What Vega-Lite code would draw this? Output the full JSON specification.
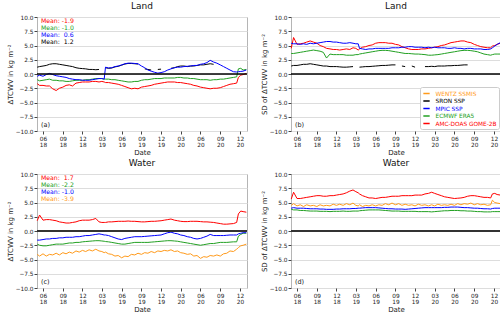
{
"$schema":"https://vega.github.io/schema/vega-lite/v6.json",
"padding":{"left":5,"top":1,"right":2,"bottom":0},
"background":"white",
"config":{
 "font":"DejaVu Sans",
 "view":{"stroke":"#b5b5b5","strokeWidth":1},
 "axis":{"labelFontSize":5.8,"titleFontSize":7,"titleFontWeight":"normal","labelColor":"#222","titleColor":"#222","tickColor":"#444","tickSize":3,"labelPadding":1,"domain":false,"labelOverlap":false,"labelFlush":false},
 "title":{"fontSize":9,"fontWeight":"normal","offset":3,"color":"#111"}
},
"datasets":{"ts":[
{"d":"2018-05-05","ar":-1.7,"ag":-1.0,"ab":-0.4,"ak":1.2,"br":4.5,"bg":3.6,"bb":5.4,"bk":1.4,"cr":1.8,"cg":-2.3,"cb":-1.6,"co":-4.1,"dr":5.6,"dg":3.8,"db":4.0,"dor":4.5},
{"d":"2018-05-16","ar":-2.0,"ag":-1.2,"ab":-0.2,"ak":1.3,"br":6.4,"bg":3.6,"bb":5.3,"bk":1.5,"cr":2.8,"cg":-2.5,"cb":-1.6,"co":-4.4,"dr":6.8,"dg":3.7,"db":4.1,"dor":4.8},
{"d":"2018-06-01","ar":-2.0,"ag":-1.1,"ab":-0.4,"ak":1.4,"br":5.2,"bg":3.7,"bb":5.3,"bk":1.5,"cr":1.9,"cg":-2.6,"cb":-1.5,"co":-4.0,"dr":5.7,"dg":3.7,"db":4.0,"dor":4.4},
{"d":"2018-06-16","ar":-2.1,"ag":-1.0,"ab":-0.1,"ak":1.5,"br":5.3,"bg":3.8,"bb":5.2,"bk":1.6,"cr":2.0,"cg":-2.6,"cb":-1.4,"co":-4.4,"dr":5.7,"dg":3.6,"db":4.0,"dor":4.6},
{"d":"2018-07-01","ar":-2.1,"ag":-0.9,"ab":0.1,"ak":1.7,"br":5.4,"bg":3.9,"bb":5.3,"bk":1.7,"cr":2.0,"cg":-2.5,"cb":-1.4,"co":-4.1,"dr":5.8,"dg":3.6,"db":4.0,"dor":4.3},
{"d":"2018-07-16","ar":-2.6,"ag":-1.1,"ab":-0.1,"ak":1.8,"br":5.6,"bg":4.0,"bb":5.2,"bk":1.7,"cr":1.9,"cg":-2.4,"cb":-1.3,"co":-4.2,"dr":5.9,"dg":3.55,"db":3.95,"dor":4.6},
{"d":"2018-08-01","ar":-2.9,"ag":-1.1,"ab":-0.3,"ak":1.8,"br":5.8,"bg":4.1,"bb":5.4,"bk":1.8,"cr":1.8,"cg":-2.3,"cb":-1.3,"co":-3.9,"dr":6.0,"dg":3.5,"db":3.9,"dor":4.4},
{"d":"2018-08-16","ar":-2.5,"ag":-1.2,"ab":-0.4,"ak":1.7,"br":5.6,"bg":4.2,"bb":5.3,"bk":1.7,"cr":1.6,"cg":-2.3,"cb":-1.2,"co":-4.2,"dr":6.1,"dg":3.5,"db":3.9,"dor":4.5},
{"d":"2018-09-01","ar":-2.3,"ag":-1.2,"ab":-0.5,"ak":1.6,"br":5.4,"bg":4.1,"bb":5.4,"bk":1.6,"cr":1.5,"cg":-2.3,"cb":-1.2,"co":-3.8,"dr":6.2,"dg":3.5,"db":3.9,"dor":4.3},
{"d":"2018-09-16","ar":-2.0,"ag":-1.3,"ab":-0.6,"ak":1.5,"br":5.0,"bg":4.0,"bb":5.5,"bk":1.5,"cr":1.4,"cg":-2.2,"cb":-1.1,"co":-4.0,"dr":6.2,"dg":3.45,"db":3.85,"dor":4.6},
{"d":"2018-10-01","ar":-1.9,"ag":-1.3,"ab":-0.8,"ak":1.4,"br":4.8,"bg":3.8,"bb":5.6,"bk":1.4,"cr":1.4,"cg":-2.1,"cb":-1.1,"co":-3.7,"dr":6.1,"dg":3.45,"db":3.85,"dor":4.4},
{"d":"2018-10-16","ar":-2.1,"ag":-1.2,"ab":-0.9,"ak":1.3,"br":4.5,"bg":2.8,"bb":5.7,"bk":1.4,"cr":1.5,"cg":-2.1,"cb":-1.1,"co":-3.9,"dr":6.1,"dg":3.45,"db":3.8,"dor":4.5},
{"d":"2018-11-01","ar":-1.6,"ag":-1.1,"ab":-1.0,"ak":1.1,"br":4.4,"bg":3.5,"bb":5.7,"bk":1.3,"cr":1.6,"cg":-2.0,"cb":-1.0,"co":-3.5,"dr":6.2,"dg":3.4,"db":3.8,"dor":4.4},
{"d":"2018-11-16","ar":-1.5,"ag":-1.1,"ab":-1.0,"ak":1.0,"br":4.3,"bg":3.4,"bb":5.6,"bk":1.3,"cr":1.8,"cg":-2.0,"cb":-1.0,"co":-3.7,"dr":6.2,"dg":3.45,"db":3.8,"dor":4.7},
{"d":"2018-12-01","ar":-1.4,"ag":-1.1,"ab":-1.1,"ak":0.95,"br":4.3,"bg":3.4,"bb":5.6,"bk":1.3,"cr":1.9,"cg":-1.9,"cb":-0.9,"co":-3.4,"dr":6.3,"dg":3.45,"db":3.85,"dor":4.5},
{"d":"2018-12-16","ar":-1.4,"ag":-1.0,"ab":-1.1,"ak":0.9,"br":4.2,"bg":3.4,"bb":5.5,"bk":1.25,"cr":1.9,"cg":-1.85,"cb":-0.8,"co":-3.6,"dr":6.4,"dg":3.45,"db":3.85,"dor":4.7},
{"d":"2019-01-01","ar":-1.4,"ag":-1.0,"ab":-1.1,"ak":0.8,"br":4.3,"bg":3.4,"bb":5.4,"bk":1.2,"cr":1.9,"cg":-1.8,"cb":-0.8,"co":-3.3,"dr":6.5,"dg":3.5,"db":3.9,"dor":4.5},
{"d":"2019-01-16","ar":-1.3,"ag":-0.9,"ab":-1.0,"ak":0.8,"br":4.4,"bg":3.3,"bb":5.4,"bk":1.2,"cr":2.0,"cg":-1.75,"cb":-0.7,"co":-3.5,"dr":6.7,"dg":3.45,"db":3.9,"dor":4.8},
{"d":"2019-02-01","ar":-1.3,"ag":-0.8,"ab":-0.9,"ak":0.75,"br":4.3,"bg":3.3,"bb":5.5,"bk":1.25,"cr":2.2,"cg":-1.7,"cb":-0.6,"co":-3.2,"dr":7.0,"dg":3.45,"db":3.9,"dor":4.6},
{"d":"2019-02-16","ar":-1.4,"ag":-0.8,"ab":-0.8,"ak":0.8,"br":4.6,"bg":3.3,"bb":5.4,"bk":1.3,"cr":1.6,"cg":-1.7,"cb":-0.5,"co":-3.5,"dr":7.2,"dg":3.5,"db":3.95,"dor":4.9},
{"d":"2019-03-01","ar":-1.3,"ag":-0.8,"ab":-0.8,"ak":null,"br":4.5,"bg":3.4,"bb":5.3,"bk":null,"cr":1.5,"cg":-1.75,"cb":-0.6,"co":-3.6,"dr":6.9,"dg":3.5,"db":3.95,"dor":4.5},
{"d":"2019-03-12","ar":-1.4,"ag":-0.9,"ab":-0.9,"ak":null,"br":4.2,"bg":3.4,"bb":5.3,"bk":null,"cr":1.5,"cg":-1.8,"cb":-0.7,"co":-3.8,"dr":6.7,"dg":3.5,"db":4.0,"dor":4.4},
{"d":"2019-03-18","ar":-1.5,"ag":-0.9,"ab":1.2,"ak":1.1,"br":4.4,"bg":3.5,"bb":4.5,"bk":1.2,"cr":1.5,"cg":-1.85,"cb":-0.7,"co":-3.7,"dr":6.5,"dg":3.55,"db":4.0,"dor":4.6},
{"d":"2019-04-01","ar":-1.5,"ag":-0.9,"ab":1.05,"ak":1.0,"br":4.7,"bg":3.6,"bb":4.4,"bk":1.25,"cr":1.6,"cg":-1.9,"cb":-0.8,"co":-4.0,"dr":6.2,"dg":3.6,"db":4.05,"dor":4.3},
{"d":"2019-04-16","ar":-1.6,"ag":-1.0,"ab":1.1,"ak":1.05,"br":4.8,"bg":3.7,"bb":4.3,"bk":1.3,"cr":1.6,"cg":-2.0,"cb":-1.0,"co":-4.1,"dr":6.0,"dg":3.65,"db":4.1,"dor":4.5},
{"d":"2019-05-01","ar":-1.7,"ag":-1.0,"ab":1.3,"ak":1.25,"br":5.0,"bg":3.8,"bb":4.4,"bk":1.3,"cr":1.65,"cg":-2.1,"cb":-1.2,"co":-4.4,"dr":5.8,"dg":3.7,"db":4.1,"dor":4.4},
{"d":"2019-05-16","ar":-1.8,"ag":-1.1,"ab":1.4,"ak":1.35,"br":5.1,"bg":3.9,"bb":4.4,"bk":1.35,"cr":1.7,"cg":-2.2,"cb":-1.4,"co":-4.3,"dr":5.8,"dg":3.7,"db":4.1,"dor":4.6},
{"d":"2019-06-01","ar":-2.0,"ag":-1.2,"ab":1.6,"ak":1.55,"br":5.4,"bg":4.0,"bb":4.5,"bk":1.4,"cr":1.7,"cg":-2.3,"cb":-1.5,"co":-4.7,"dr":5.7,"dg":3.7,"db":4.1,"dor":4.4},
{"d":"2019-06-16","ar":-2.2,"ag":-1.3,"ab":1.8,"ak":1.75,"br":5.5,"bg":4.1,"bb":4.5,"bk":1.45,"cr":1.7,"cg":-2.3,"cb":-1.3,"co":-4.4,"dr":5.8,"dg":3.7,"db":4.05,"dor":4.6},
{"d":"2019-07-01","ar":-2.4,"ag":-1.4,"ab":1.9,"ak":1.85,"br":5.5,"bg":4.15,"bb":4.5,"bk":1.5,"cr":1.75,"cg":-2.2,"cb":-1.2,"co":-4.5,"dr":5.9,"dg":3.65,"db":4.0,"dor":4.5},
{"d":"2019-07-16","ar":-2.6,"ag":-1.4,"ab":1.9,"ak":1.85,"br":5.5,"bg":4.15,"bb":4.5,"bk":1.5,"cr":1.7,"cg":-2.1,"cb":-1.1,"co":-4.1,"dr":5.9,"dg":3.6,"db":3.95,"dor":4.8},
{"d":"2019-08-01","ar":-2.5,"ag":-1.3,"ab":1.85,"ak":1.8,"br":5.4,"bg":4.1,"bb":4.5,"bk":1.55,"cr":1.7,"cg":-2.0,"cb":-1.0,"co":-4.2,"dr":6.0,"dg":3.55,"db":3.9,"dor":4.6},
{"d":"2019-08-16","ar":-2.6,"ag":-1.3,"ab":1.8,"ak":1.75,"br":5.4,"bg":4.0,"bb":4.6,"bk":1.6,"cr":1.65,"cg":-2.0,"cb":-1.0,"co":-3.9,"dr":6.1,"dg":3.5,"db":3.9,"dor":4.9},
{"d":"2019-09-01","ar":-2.3,"ag":-1.1,"ab":1.4,"ak":null,"br":5.2,"bg":3.9,"bb":4.6,"bk":1.6,"cr":1.6,"cg":-2.0,"cb":-1.0,"co":-4.1,"dr":6.1,"dg":3.5,"db":3.85,"dor":4.6},
{"d":"2019-09-16","ar":-2.2,"ag":-1.0,"ab":1.1,"ak":0.9,"br":5.1,"bg":3.8,"bb":4.6,"bk":null,"cr":1.6,"cg":-2.0,"cb":-0.95,"co":-3.8,"dr":6.1,"dg":3.5,"db":3.85,"dor":4.8},
{"d":"2019-10-01","ar":-2.1,"ag":-1.0,"ab":0.7,"ak":0.8,"br":4.8,"bg":3.7,"bb":4.7,"bk":1.4,"cr":1.65,"cg":-2.0,"cb":-0.9,"co":-3.9,"dr":6.2,"dg":3.45,"db":3.85,"dor":4.5},
{"d":"2019-10-16","ar":-2.0,"ag":-0.9,"ab":0.5,"ak":0.7,"br":4.6,"bg":3.6,"bb":4.7,"bk":1.3,"cr":1.7,"cg":-1.95,"cb":-0.85,"co":-3.6,"dr":6.2,"dg":3.45,"db":3.8,"dor":4.7},
{"d":"2019-11-01","ar":-1.8,"ag":-0.8,"ab":0.3,"ak":null,"br":4.4,"bg":3.6,"bb":4.8,"bk":null,"cr":1.7,"cg":-1.9,"cb":-0.8,"co":-3.8,"dr":6.2,"dg":3.45,"db":3.85,"dor":4.5},
{"d":"2019-11-16","ar":-1.7,"ag":-0.8,"ab":0.15,"ak":0.8,"br":4.3,"bg":3.55,"bb":4.8,"bk":1.4,"cr":1.75,"cg":-1.85,"cb":-0.75,"co":-3.5,"dr":6.2,"dg":3.45,"db":3.9,"dor":4.6},
{"d":"2019-12-01","ar":-1.6,"ag":-0.8,"ab":0.25,"ak":0.85,"br":4.3,"bg":3.5,"bb":4.7,"bk":1.2,"cr":1.8,"cg":-1.8,"cb":-0.7,"co":-3.6,"dr":6.3,"dg":3.45,"db":3.95,"dor":4.4},
{"d":"2019-12-16","ar":-1.5,"ag":-0.7,"ab":0.4,"ak":null,"br":4.3,"bg":3.5,"bb":4.7,"bk":null,"cr":1.9,"cg":-1.75,"cb":-0.5,"co":-3.4,"dr":6.3,"dg":3.4,"db":4.0,"dor":4.7},
{"d":"2020-01-01","ar":-1.4,"ag":-0.7,"ab":0.7,"ak":null,"br":4.4,"bg":3.45,"bb":4.7,"bk":null,"cr":2.0,"cg":-1.7,"cb":-0.3,"co":-3.5,"dr":6.3,"dg":3.4,"db":4.05,"dor":4.5},
{"d":"2020-01-16","ar":-1.4,"ag":-0.7,"ab":0.9,"ak":1.0,"br":4.4,"bg":3.4,"bb":4.6,"bk":1.3,"cr":2.1,"cg":-1.7,"cb":-0.2,"co":-3.3,"dr":6.5,"dg":3.4,"db":4.1,"dor":4.6},
{"d":"2020-02-01","ar":-1.4,"ag":-0.7,"ab":1.1,"ak":1.1,"br":4.5,"bg":3.3,"bb":4.7,"bk":1.3,"cr":1.9,"cg":-1.75,"cb":-0.4,"co":-3.6,"dr":6.6,"dg":3.4,"db":4.1,"dor":4.4},
{"d":"2020-02-16","ar":-1.5,"ag":-0.6,"ab":1.2,"ak":1.3,"br":4.6,"bg":3.3,"bb":4.6,"bk":1.35,"cr":1.8,"cg":-1.8,"cb":-0.5,"co":-3.5,"dr":6.8,"dg":3.35,"db":4.1,"dor":4.6},
{"d":"2020-03-01","ar":-1.5,"ag":-0.6,"ab":1.2,"ak":1.4,"br":4.7,"bg":3.35,"bb":4.7,"bk":1.3,"cr":1.7,"cg":-1.9,"cb":-0.7,"co":-3.8,"dr":6.6,"dg":3.4,"db":4.1,"dor":4.4},
{"d":"2020-03-16","ar":-1.6,"ag":-0.7,"ab":1.3,"ak":1.4,"br":4.8,"bg":3.4,"bb":4.6,"bk":1.4,"cr":1.65,"cg":-2.0,"cb":-0.8,"co":-3.9,"dr":6.4,"dg":3.45,"db":4.1,"dor":4.7},
{"d":"2020-04-01","ar":-1.7,"ag":-0.7,"ab":1.35,"ak":1.3,"br":5.0,"bg":3.5,"bb":4.6,"bk":1.4,"cr":1.65,"cg":-2.1,"cb":-1.0,"co":-4.1,"dr":6.2,"dg":3.5,"db":4.1,"dor":4.5},
{"d":"2020-04-16","ar":-1.8,"ag":-0.8,"ab":1.4,"ak":1.4,"br":5.1,"bg":3.6,"bb":4.6,"bk":1.4,"cr":1.7,"cg":-2.2,"cb":-1.1,"co":-4.0,"dr":6.0,"dg":3.55,"db":4.15,"dor":4.6},
{"d":"2020-05-01","ar":-2.0,"ag":-0.8,"ab":1.5,"ak":1.4,"br":5.3,"bg":3.7,"bb":4.5,"bk":1.45,"cr":1.7,"cg":-2.3,"cb":-1.3,"co":-4.4,"dr":5.9,"dg":3.55,"db":4.15,"dor":4.5},
{"d":"2020-05-16","ar":-2.1,"ag":-0.9,"ab":1.5,"ak":1.5,"br":5.5,"bg":3.8,"bb":4.5,"bk":1.45,"cr":1.7,"cg":-2.4,"cb":-1.4,"co":-4.3,"dr":5.8,"dg":3.6,"db":4.2,"dor":4.7},
{"d":"2020-06-01","ar":-2.3,"ag":-1.0,"ab":1.7,"ak":1.6,"br":5.6,"bg":3.9,"bb":4.6,"bk":1.5,"cr":1.65,"cg":-2.5,"cb":-1.3,"co":-4.8,"dr":5.7,"dg":3.6,"db":4.2,"dor":4.5},
{"d":"2020-06-16","ar":-2.4,"ag":-1.0,"ab":1.8,"ak":1.6,"br":5.7,"bg":4.0,"bb":4.5,"bk":1.5,"cr":1.6,"cg":-2.4,"cb":-1.1,"co":-4.5,"dr":5.75,"dg":3.6,"db":4.2,"dor":4.8},
{"d":"2020-07-01","ar":-2.5,"ag":-1.0,"ab":2.0,"ak":1.7,"br":5.8,"bg":4.1,"bb":4.5,"bk":1.55,"cr":1.6,"cg":-2.3,"cb":-0.9,"co":-4.6,"dr":5.8,"dg":3.55,"db":4.15,"dor":4.6},
{"d":"2020-07-16","ar":-2.6,"ag":-1.1,"ab":2.4,"ak":1.8,"br":5.8,"bg":4.15,"bb":4.4,"bk":1.6,"cr":1.55,"cg":-2.2,"cb":-0.6,"co":-4.3,"dr":5.9,"dg":3.55,"db":4.1,"dor":4.8},
{"d":"2020-08-01","ar":-2.5,"ag":-1.0,"ab":2.1,"ak":1.7,"br":5.6,"bg":4.15,"bb":4.5,"bk":1.6,"cr":1.5,"cg":-2.2,"cb":-0.8,"co":-4.4,"dr":6.1,"dg":3.5,"db":4.1,"dor":4.7},
{"d":"2020-08-16","ar":-2.5,"ag":-1.0,"ab":1.9,"ak":null,"br":5.5,"bg":4.1,"bb":4.5,"bk":null,"cr":1.4,"cg":-2.1,"cb":-0.8,"co":-4.2,"dr":6.2,"dg":3.5,"db":4.05,"dor":4.9},
{"d":"2020-09-01","ar":-2.4,"ag":-0.9,"ab":1.6,"ak":null,"br":5.2,"bg":4.0,"bb":4.4,"bk":null,"cr":1.3,"cg":-2.0,"cb":-0.8,"co":-4.4,"dr":6.2,"dg":3.45,"db":4.0,"dor":4.6},
{"d":"2020-09-16","ar":-2.2,"ag":-0.9,"ab":1.3,"ak":null,"br":5.0,"bg":3.9,"bb":4.4,"bk":null,"cr":1.2,"cg":-2.0,"cb":-0.8,"co":-4.0,"dr":6.1,"dg":3.4,"db":4.0,"dor":4.8},
{"d":"2020-10-01","ar":-2.0,"ag":-0.8,"ab":1.0,"ak":null,"br":4.8,"bg":3.7,"bb":4.4,"bk":null,"cr":1.2,"cg":-2.0,"cb":-0.75,"co":-3.9,"dr":6.0,"dg":3.4,"db":3.95,"dor":4.6},
{"d":"2020-10-16","ar":-1.8,"ag":-0.7,"ab":0.7,"ak":null,"br":4.7,"bg":3.5,"bb":4.3,"bk":null,"cr":1.25,"cg":-1.95,"cb":-0.7,"co":-3.5,"dr":5.9,"dg":3.35,"db":3.9,"dor":4.7},
{"d":"2020-11-01","ar":-1.7,"ag":-0.6,"ab":0.4,"ak":null,"br":4.6,"bg":3.4,"bb":4.3,"bk":null,"cr":1.3,"cg":-1.9,"cb":-0.7,"co":-3.6,"dr":5.9,"dg":3.35,"db":3.9,"dor":4.5},
{"d":"2020-11-16","ar":-1.6,"ag":-0.5,"ab":0.35,"ak":null,"br":4.6,"bg":3.3,"bb":4.4,"bk":null,"cr":1.5,"cg":-1.9,"cb":-0.7,"co":-3.2,"dr":5.8,"dg":3.35,"db":3.85,"dor":4.6},
{"d":"2020-11-24","ar":-0.6,"ag":0.9,"ab":0.4,"ak":null,"br":4.9,"bg":3.4,"bb":4.6,"bk":null,"cr":3.0,"cg":-0.9,"cb":-0.5,"co":-2.9,"dr":6.5,"dg":3.4,"db":3.95,"dor":5.4},
{"d":"2020-12-05","ar":-0.2,"ag":1.0,"ab":0.45,"ak":null,"br":5.0,"bg":3.5,"bb":4.9,"bk":null,"cr":3.5,"cg":-0.6,"cb":-0.4,"co":-2.6,"dr":6.6,"dg":3.4,"db":4.0,"dor":5.0},
{"d":"2020-12-16","ar":-0.1,"ag":0.7,"ab":0.5,"ak":null,"br":5.2,"bg":3.5,"bb":5.2,"bk":null,"cr":3.4,"cg":-0.4,"cb":-0.3,"co":-2.5,"dr":6.4,"dg":3.4,"db":4.0,"dor":4.9},
{"d":"2020-12-31","ar":0.1,"ag":0.8,"ab":0.7,"ak":null,"br":5.4,"bg":3.5,"bb":5.5,"bk":null,"cr":3.3,"cg":-0.4,"cb":-0.3,"co":-2.3,"dr":6.3,"dg":3.4,"db":4.0,"dor":4.8}
]},
"columns":2,
"spacing":{"row":2,"column":10},
"resolve":{"scale":{"x":"independent","y":"independent","color":"independent"},"legend":{"color":"independent"}},
"concat":[
{"width":210,"height":114,"title":"Land",
 "resolve":{"axis":{"x":"independent","y":"independent"}},
 "layer":[
  {"data":{"name":"ts"},"transform":[{"fold":["ak","ag","ar","ab"]}],
   "mark":{"type":"line","strokeWidth":1,"invalid":"break-paths-show-domains"},
   "encoding":{
    "x":{"field":"d","type":"temporal","scale":{"type":"utc","domain":[{"year":2018,"month":5,"date":4,"utc":true},{"year":2021,"month":1,"date":3,"utc":true}]},"axis":{"title":"Date","grid":false,"values":[{"year":2018,"month":6,"date":1,"utc":true},{"year":2018,"month":9,"date":1,"utc":true},{"year":2018,"month":12,"date":1,"utc":true},{"year":2019,"month":3,"date":1,"utc":true},{"year":2019,"month":6,"date":1,"utc":true},{"year":2019,"month":9,"date":1,"utc":true},{"year":2019,"month":12,"date":1,"utc":true},{"year":2020,"month":3,"date":1,"utc":true},{"year":2020,"month":6,"date":1,"utc":true},{"year":2020,"month":9,"date":1,"utc":true},{"year":2020,"month":12,"date":1,"utc":true}],"labelExpr":"[utcFormat(datum.value,'%m'),utcFormat(datum.value,'%y')]","labelLineHeight":6.5,"titlePadding":1}},
    "y":{"field":"value","type":"quantitative","scale":{"domain":[-10,10]},"axis":{"title":"ΔTCWV in kg m⁻²","values":[-10,-7.5,-5,-2.5,0,2.5,5,7.5,10],"format":".1f","grid":true,"gridColor":"#dddddd","titlePadding":2}},
    "color":{"field":"key","type":"nominal","scale":{"domain":["ak","ag","ar","ab"],"range":["#000000","#22a022","#ff0000","#0000ff"]},"legend":null}}},
  {"data":{"values":[{}]},"mark":{"type":"rule","color":"#000000","strokeWidth":1.6},"encoding":{"y":{"datum":0,"axis":null}}},
  {"data":{"values":[{}]},"mark":{"type":"text","align":"left","baseline":"middle","fontSize":6.2,"color":"#ff0000","text":"Mean: -1.9"},"encoding":{"x":{"datum":{"year":2018,"month":5,"date":22,"utc":true},"axis":null},"y":{"datum":9.3,"axis":null}}},
  {"data":{"values":[{}]},"mark":{"type":"text","align":"left","baseline":"middle","fontSize":6.2,"color":"#22a022","text":"Mean: -1.0"},"encoding":{"x":{"datum":{"year":2018,"month":5,"date":22,"utc":true},"axis":null},"y":{"datum":8.1,"axis":null}}},
  {"data":{"values":[{}]},"mark":{"type":"text","align":"left","baseline":"middle","fontSize":6.2,"color":"#0000ff","text":"Mean: \u00a00.6"},"encoding":{"x":{"datum":{"year":2018,"month":5,"date":22,"utc":true},"axis":null},"y":{"datum":6.9,"axis":null}}},
  {"data":{"values":[{}]},"mark":{"type":"text","align":"left","baseline":"middle","fontSize":6.2,"color":"#000000","text":"Mean: \u00a01.2"},"encoding":{"x":{"datum":{"year":2018,"month":5,"date":22,"utc":true},"axis":null},"y":{"datum":5.7,"axis":null}}},
  {"data":{"values":[{}]},"mark":{"type":"text","align":"left","baseline":"middle","fontSize":6.5,"color":"#222222","text":"(a)"},"encoding":{"x":{"datum":{"year":2018,"month":5,"date":22,"utc":true},"axis":null},"y":{"datum":-8.9,"axis":null}}}
 ]},
{"width":210,"height":114,"title":"Land",
 "resolve":{"axis":{"x":"independent","y":"independent"}},
 "layer":[
  {"data":{"name":"ts"},"transform":[{"fold":["bk","bg","br","bb"]}],
   "mark":{"type":"line","strokeWidth":1,"invalid":"break-paths-show-domains"},
   "encoding":{
    "x":{"field":"d","type":"temporal","scale":{"type":"utc","domain":[{"year":2018,"month":5,"date":4,"utc":true},{"year":2021,"month":1,"date":3,"utc":true}]},"axis":{"title":"Date","grid":false,"values":[{"year":2018,"month":6,"date":1,"utc":true},{"year":2018,"month":9,"date":1,"utc":true},{"year":2018,"month":12,"date":1,"utc":true},{"year":2019,"month":3,"date":1,"utc":true},{"year":2019,"month":6,"date":1,"utc":true},{"year":2019,"month":9,"date":1,"utc":true},{"year":2019,"month":12,"date":1,"utc":true},{"year":2020,"month":3,"date":1,"utc":true},{"year":2020,"month":6,"date":1,"utc":true},{"year":2020,"month":9,"date":1,"utc":true},{"year":2020,"month":12,"date":1,"utc":true}],"labelExpr":"[utcFormat(datum.value,'%m'),utcFormat(datum.value,'%y')]","labelLineHeight":6.5,"titlePadding":1}},
    "y":{"field":"value","type":"quantitative","scale":{"domain":[-10,10]},"axis":{"title":"SD of ΔTCWV in kg m⁻²","values":[-10,-7.5,-5,-2.5,0,2.5,5,7.5,10],"format":".1f","grid":true,"gridColor":"#dddddd","titlePadding":2}},
    "color":{"field":"key","type":"nominal","scale":{"domain":["bo","bk","bb","bg","br"],"range":["#ff9a1a","#000000","#0000ff","#22a022","#ff0000"]},
     "legend":{"orient":"bottom-right","title":null,"symbolType":"stroke","symbolStrokeWidth":1.5,"symbolSize":40,"labelFontSize":5.8,"labelOffset":5,"rowPadding":0.5,"padding":2.5,"offset":2,"fillColor":"white","strokeColor":"#cccccc","cornerRadius":2,
      "labelExpr":"datum.value=='bo'?'WENTZ SSMIS':datum.value=='bk'?'SRON SSP':datum.value=='bb'?'MPIC SSP':datum.value=='bg'?'ECMWF ERA5':'AMC-DOAS GOME-2B'",
      "encode":{"labels":{"update":{"fill":{"signal":"datum.value=='bo'?'#ff9a1a':datum.value=='bk'?'#000000':datum.value=='bb'?'#0000ff':datum.value=='bg'?'#22a022':'#ff0000'"}}}}}}}},
  {"data":{"values":[{}]},"mark":{"type":"rule","color":"#000000","strokeWidth":1.6},"encoding":{"y":{"datum":0,"axis":null}}},
  {"data":{"values":[{}]},"mark":{"type":"text","align":"left","baseline":"middle","fontSize":6.5,"color":"#222222","text":"(b)"},"encoding":{"x":{"datum":{"year":2018,"month":5,"date":22,"utc":true},"axis":null},"y":{"datum":-8.9,"axis":null}}}
 ]},
{"width":210,"height":114,"title":"Water",
 "resolve":{"axis":{"x":"independent","y":"independent"}},
 "layer":[
  {"data":{"name":"ts"},"transform":[{"fold":["co","cg","cb","cr"]}],
   "mark":{"type":"line","strokeWidth":1,"invalid":"break-paths-show-domains"},
   "encoding":{
    "x":{"field":"d","type":"temporal","scale":{"type":"utc","domain":[{"year":2018,"month":5,"date":4,"utc":true},{"year":2021,"month":1,"date":3,"utc":true}]},"axis":{"title":"Date","grid":false,"values":[{"year":2018,"month":6,"date":1,"utc":true},{"year":2018,"month":9,"date":1,"utc":true},{"year":2018,"month":12,"date":1,"utc":true},{"year":2019,"month":3,"date":1,"utc":true},{"year":2019,"month":6,"date":1,"utc":true},{"year":2019,"month":9,"date":1,"utc":true},{"year":2019,"month":12,"date":1,"utc":true},{"year":2020,"month":3,"date":1,"utc":true},{"year":2020,"month":6,"date":1,"utc":true},{"year":2020,"month":9,"date":1,"utc":true},{"year":2020,"month":12,"date":1,"utc":true}],"labelExpr":"[utcFormat(datum.value,'%m'),utcFormat(datum.value,'%y')]","labelLineHeight":6.5,"titlePadding":1}},
    "y":{"field":"value","type":"quantitative","scale":{"domain":[-10,10]},"axis":{"title":"ΔTCWV in kg m⁻²","values":[-10,-7.5,-5,-2.5,0,2.5,5,7.5,10],"format":".1f","grid":true,"gridColor":"#dddddd","titlePadding":2}},
    "color":{"field":"key","type":"nominal","scale":{"domain":["co","cg","cb","cr"],"range":["#ff9a1a","#22a022","#0000ff","#ff0000"]},"legend":null}}},
  {"data":{"values":[{}]},"mark":{"type":"rule","color":"#333333","strokeWidth":1.8},"encoding":{"y":{"datum":0,"axis":null}}},
  {"data":{"values":[{}]},"mark":{"type":"text","align":"left","baseline":"middle","fontSize":6.2,"color":"#ff0000","text":"Mean: \u00a01.7"},"encoding":{"x":{"datum":{"year":2018,"month":5,"date":22,"utc":true},"axis":null},"y":{"datum":9.3,"axis":null}}},
  {"data":{"values":[{}]},"mark":{"type":"text","align":"left","baseline":"middle","fontSize":6.2,"color":"#22a022","text":"Mean: -2.2"},"encoding":{"x":{"datum":{"year":2018,"month":5,"date":22,"utc":true},"axis":null},"y":{"datum":8.1,"axis":null}}},
  {"data":{"values":[{}]},"mark":{"type":"text","align":"left","baseline":"middle","fontSize":6.2,"color":"#0000ff","text":"Mean: -1.0"},"encoding":{"x":{"datum":{"year":2018,"month":5,"date":22,"utc":true},"axis":null},"y":{"datum":6.9,"axis":null}}},
  {"data":{"values":[{}]},"mark":{"type":"text","align":"left","baseline":"middle","fontSize":6.2,"color":"#ff9a1a","text":"Mean: -3.9"},"encoding":{"x":{"datum":{"year":2018,"month":5,"date":22,"utc":true},"axis":null},"y":{"datum":5.7,"axis":null}}},
  {"data":{"values":[{}]},"mark":{"type":"text","align":"left","baseline":"middle","fontSize":6.5,"color":"#222222","text":"(c)"},"encoding":{"x":{"datum":{"year":2018,"month":5,"date":22,"utc":true},"axis":null},"y":{"datum":-8.9,"axis":null}}}
 ]},
{"width":210,"height":114,"title":"Water",
 "resolve":{"axis":{"x":"independent","y":"independent"}},
 "layer":[
  {"data":{"name":"ts"},"transform":[{"fold":["dg","db","dor","dr"]}],
   "mark":{"type":"line","strokeWidth":1,"invalid":"break-paths-show-domains"},
   "encoding":{
    "x":{"field":"d","type":"temporal","scale":{"type":"utc","domain":[{"year":2018,"month":5,"date":4,"utc":true},{"year":2021,"month":1,"date":3,"utc":true}]},"axis":{"title":"Date","grid":false,"values":[{"year":2018,"month":6,"date":1,"utc":true},{"year":2018,"month":9,"date":1,"utc":true},{"year":2018,"month":12,"date":1,"utc":true},{"year":2019,"month":3,"date":1,"utc":true},{"year":2019,"month":6,"date":1,"utc":true},{"year":2019,"month":9,"date":1,"utc":true},{"year":2019,"month":12,"date":1,"utc":true},{"year":2020,"month":3,"date":1,"utc":true},{"year":2020,"month":6,"date":1,"utc":true},{"year":2020,"month":9,"date":1,"utc":true},{"year":2020,"month":12,"date":1,"utc":true}],"labelExpr":"[utcFormat(datum.value,'%m'),utcFormat(datum.value,'%y')]","labelLineHeight":6.5,"titlePadding":1}},
    "y":{"field":"value","type":"quantitative","scale":{"domain":[-10,10]},"axis":{"title":"SD of ΔTCWV in kg m⁻²","values":[-10,-7.5,-5,-2.5,0,2.5,5,7.5,10],"format":".1f","grid":true,"gridColor":"#dddddd","titlePadding":2}},
    "color":{"field":"key","type":"nominal","scale":{"domain":["dg","db","dor","dr"],"range":["#22a022","#0000ff","#ff9a1a","#ff0000"]},"legend":null}}},
  {"data":{"values":[{}]},"mark":{"type":"rule","color":"#333333","strokeWidth":1.8},"encoding":{"y":{"datum":0,"axis":null}}},
  {"data":{"values":[{}]},"mark":{"type":"text","align":"left","baseline":"middle","fontSize":6.5,"color":"#222222","text":"(d)"},"encoding":{"x":{"datum":{"year":2018,"month":5,"date":22,"utc":true},"axis":null},"y":{"datum":-8.9,"axis":null}}}
 ]}
]
}
